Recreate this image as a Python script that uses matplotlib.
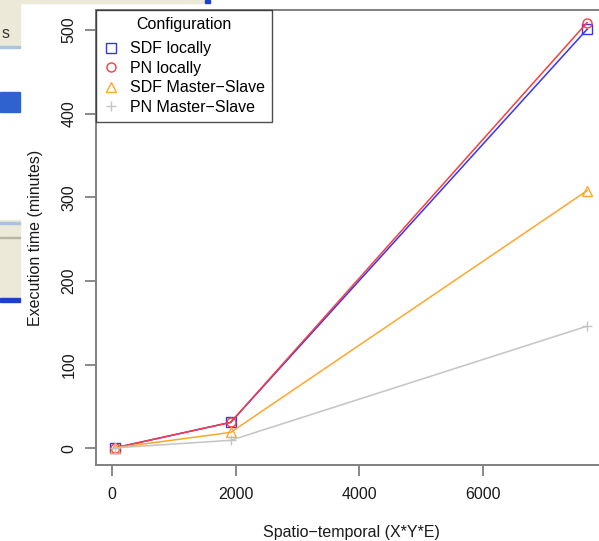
import matplotlib
matplotlib.use("Agg")
import matplotlib.pyplot as plt
from matplotlib.patches import Rectangle

plt.rcParams["font.family"] = ["Liberation Sans", "DejaVu Sans"]

# problem size (X*Y*E)
sizes = [48, 1920, 7680]

# execution time in minutes
sdf_local = [0.5, 31, 501]
pn_local = [0.5, 31, 509]
sdf_ms = [0.5, 19, 308]
pn_ms = [0.5, 9.5, 146]

labels = ["SDF locally", "PN locally", "SDF Master\u2212Slave", "PN Master\u2212Slave"]
colors = ["#3333ff", "#ff3b3b", "#ffa62b", "#c4c4c4"]
markers = ["s", "o", "^", "+"]

x_ticks = [0, 2000, 4000, 6000]
y_ticks = [0, 100, 200, 300, 400, 500]

FS = 11.5
W, H = 599, 541
fig = plt.figure(figsize=(W / 100, H / 100), dpi=100)

# leftovers of the screenshot on the left edge
def fig_rect(x, y, w, h, color):
    fig.patches.append(Rectangle((x / W, 1 - (y + h) / H), w / W, h / H,
                                 transform=fig.transFigure, color=color, zorder=0))

fig_rect(0, 0, 20, 46, "#ece9d8")
fig_rect(0, 46, 20, 2, "#a9c4e0")
fig_rect(20, 0, 185, 3, "#ece9d8")
fig_rect(205, 0, 5, 3, "#1c3fd0")
fig_rect(0, 92, 20, 20, "#2f62cf")
fig_rect(0, 220, 20, 80, "#ece9d8")
fig_rect(0, 222, 20, 2, "#a9c4e0")
fig_rect(0, 237, 20, 1, "#b8b4a4")
fig_rect(0, 298, 20, 4, "#1c3fd0")
fig.text(2 / W, 1 - 38 / H, "s", fontsize=FS, va="baseline", color="#333333")

left, right, top, bottom = 96, 606, 10, 465
ax = fig.add_axes([left / W, 1 - bottom / H, (right - left) / W, (bottom - top) / H])

series = [sdf_local, pn_local, sdf_ms, pn_ms]
for vals, lab, col, mk in zip(series, labels, colors, markers):
    ax.plot(sizes, vals, color=col, lw=1.1, marker=mk, markersize=6.5,
            markerfacecolor="none", markeredgecolor=col, markeredgewidth=1.0, label=lab)

ax.set_xlim(-257, 7985)
ax.set_ylim(-20, 524)
ax.set_xticks(x_ticks)
ax.set_yticks(y_ticks)
ax.set_xticklabels([str(t) for t in x_ticks])
ax.set_yticklabels([str(t) for t in y_ticks], rotation=90, va="center")

for s in ax.spines.values():
    s.set_color("#808080")
    s.set_linewidth(1.4)
ax.tick_params(direction="out", length=8, width=1.3, color="#808080",
               labelsize=FS, labelcolor="#1a1a1a", pad=7.5)
ax.tick_params(axis="y", pad=6)

ax.set_xlabel("Spatio\u2212temporal (X*Y*E)", fontsize=FS, color="#1a1a1a", labelpad=17)
ax.set_ylabel("Execution time (minutes)", fontsize=FS, color="#1a1a1a", labelpad=13)

leg = ax.legend(title="Configuration", loc="upper left", bbox_to_anchor=(0, 1),
                fontsize=FS, title_fontsize=FS, frameon=True, fancybox=False,
                borderaxespad=0, handlelength=1.0, handletextpad=0.7,
                labelspacing=0.28, borderpad=0.42)
leg._legend_box.sep = 7
leg.get_frame().set_edgecolor("#222222")
leg.get_frame().set_linewidth(1.0)
for h in leg.legend_handles:
    h.set_linestyle("none")

fig.savefig("out.png", dpi=100)
